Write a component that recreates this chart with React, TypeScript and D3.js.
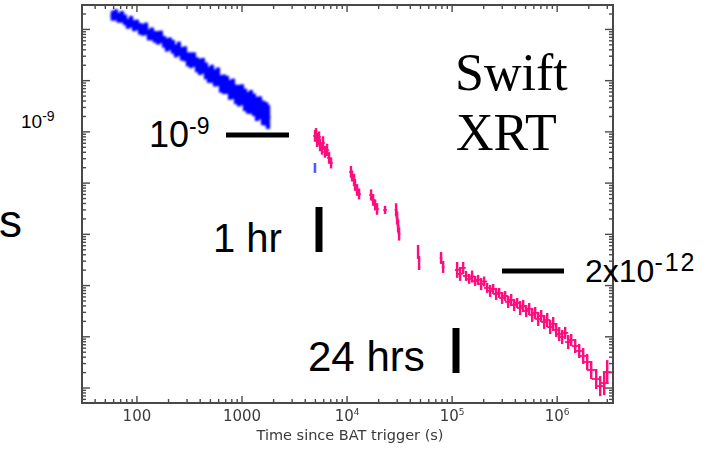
import React, { useRef, useEffect } from "react";
import * as d3 from "d3";

// Swift XRT light curve, early (blue) then late (pink) segments
const blueTime = [
  59, 63, 67, 72, 77, 82, 88, 94, 100, 107, 114, 122, 130, 139, 148, 159, 169,
  181, 193, 206, 220, 235, 251, 268, 287, 306, 327, 349, 373, 398, 425, 454,
  485, 518, 553, 591, 631, 674, 720, 769, 821, 877, 936, 1000, 1068, 1141,
  1218, 1301, 1389, 1484, 1585, 1693, 1770,
];
const blueFlux = [
  1.85e-7, 1.93e-7, 1.69e-7, 1.76e-7, 1.54e-7, 1.29e-7, 1.41e-7, 1.18e-7,
  1.23e-7, 1.03e-7, 9.82e-8, 1.03e-7, 7.84e-8, 8.2e-8, 7.17e-8, 6.85e-8,
  7.17e-8, 5.73e-8, 5.0e-8, 5.23e-8, 4.57e-8, 3.82e-8, 4.18e-8, 3.34e-8,
  3.34e-8, 2.6e-8, 2.5e-8, 2.58e-8, 2.04e-8, 1.86e-8, 1.95e-8, 1.55e-8,
  1.3e-8, 1.36e-8, 1.13e-8, 1.19e-8, 8.66e-9, 8.5e-9, 8.28e-9, 6.61e-9,
  6.92e-9, 5.4e-9, 5.1e-9, 5.3e-9, 4.22e-9, 3.69e-9, 3.85e-9, 3.37e-9,
  2.81e-9, 2.94e-9, 2.35e-9, 2.25e-9, 1.96e-9,
];
const blueErr = [
  0.25, 0.28, 0.25, 0.3, 0.27, 0.25, 0.3, 0.28, 0.26, 0.3, 0.3, 0.32, 0.28,
  0.33, 0.3, 0.35, 0.32, 0.3, 0.35, 0.33, 0.36, 0.34, 0.38, 0.35, 0.4, 0.37,
  0.42, 0.38, 0.4, 0.44, 0.42, 0.46, 0.44, 0.5, 0.47, 0.52, 0.48, 0.55, 0.5,
  0.56, 0.58, 0.55, 0.62, 0.6, 0.66, 0.63, 0.7, 0.66, 0.72, 0.68, 0.74, 0.7,
  0.72,
];
const blueLateTime = [4950];
const blueLateFlux = [1.98e-10];

const pinkTime = [
  5070, 5180, 5300, 5410, 5535, 5780, 5905, 6170, 6450, 6740, 7040, 4955,
  10900, 11160, 11660, 11910, 12450, 13010,
  16930, 17700, 18500, 19300,
  23000,
  29300, 29950, 30600, 31270,
  47400, 48500,
  78500, 82100,
  111600, 119200, 127300, 135900, 145200, 155000, 165600, 176800, 188900,
  201700, 215400, 230100, 245700, 262400, 280300, 299400, 319700, 341500,
  364700, 389500, 416000, 444300, 474600, 506800, 541300, 578100, 617400,
  659400, 704300, 752200, 803400, 858000, 916400, 978700, 1045000, 1116000,
  1192000, 1273000, 1359000, 1484000, 1620000, 1768000, 1931000, 2108000,
  2352000, 2568000, 2803000, 2994000,
];
const pinkFlux = [
  9.14e-10, 6.67e-10, 7.3e-10, 7.98e-10, 5.57e-10, 4.66e-10, 6.1e-10, 4.07e-10,
  4.45e-10, 3.1e-10, 2.48e-10, 8.35e-10,
  1.66e-10, 1.38e-10, 1.15e-10, 9.22e-11, 7.36e-11, 6.15e-11,
  5.89e-11, 4.7e-11, 3.75e-11, 3.13e-11,
  3.0e-11,
  3.0e-11, 2.09e-11, 1.46e-11, 1.02e-11,
  4.53e-12, 2.76e-12,
  3.46e-12, 2.31e-12,
  2.02e-12, 1.69e-12, 2.21e-12, 1.54e-12, 1.35e-12, 1.5e-12, 1.23e-12,
  1.29e-12, 1.07e-12, 1.2e-12, 8.98e-13, 7.85e-13, 8.59e-13, 6.86e-13,
  7.17e-13, 5.73e-13, 6.27e-13, 4.79e-13, 5.24e-13, 4.18e-13, 4.57e-13,
  3.65e-13, 4.0e-13, 3.19e-13, 3.49e-13, 2.67e-13, 2.92e-13, 2.23e-13,
  2.55e-13, 1.95e-13, 2.13e-13, 1.55e-13, 1.78e-13, 1.36e-13, 1.13e-13,
  9.91e-14, 1.19e-13, 7.91e-14, 8.66e-14, 6.61e-14, 5.28e-14, 4.22e-14,
  3.22e-14, 2.25e-14, 1.5e-14, 1.09e-14, 1.25e-14, 2.05e-14,
];
const pinkErr = [
  0.3, 0.32, 0.3, 0.28, 0.33, 0.3, 0.35, 0.3, 0.32, 0.3, 0.28, 0.3,
  0.3, 0.28, 0.32, 0.3, 0.3, 0.28,
  0.28, 0.3, 0.28, 0.3,
  0.2,
  0.35, 0.35, 0.35, 0.35,
  0.37, 0.37,
  0.31, 0.31,
  0.43, 0.37, 0.31, 0.25, 0.25, 0.31, 0.25, 0.25, 0.31, 0.25, 0.25, 0.31,
  0.25, 0.31, 0.25, 0.31, 0.25, 0.31, 0.31, 0.31, 0.25, 0.37, 0.31, 0.31,
  0.31, 0.37, 0.31, 0.37, 0.31, 0.37, 0.37, 0.37, 0.37, 0.37, 0.37, 0.37,
  0.31, 0.37, 0.31, 0.37, 0.37, 0.43, 0.43, 0.5, 0.57, 0.57, 0.71, 0.71,
];
const pinkTErr = [
  0.04, 0.04, 0.04, 0.04, 0.04, 0.04, 0.04, 0.04, 0.04, 0.04, 0.04, 0.04,
  0.04, 0.04, 0.04, 0.04, 0.04, 0.04,
  0.04, 0.04, 0.04, 0.04,
  0.04,
  0.03, 0.03, 0.03, 0.03,
  0.02, 0.02,
  0.03, 0.03,
  0.05, 0.06, 0.06, 0.07, 0.07, 0.07, 0.07, 0.07, 0.07, 0.07, 0.07, 0.07,
  0.07, 0.07, 0.07, 0.07, 0.07, 0.07, 0.07, 0.07, 0.07, 0.07, 0.07, 0.07,
  0.07, 0.07, 0.07, 0.07, 0.07, 0.07, 0.07, 0.07, 0.07, 0.07, 0.07, 0.07,
  0.07, 0.07, 0.07, 0.08, 0.08, 0.08, 0.09, 0.1, 0.1, 0.1, 0.1, 0.1,
];

const xMajorTicks = [100, 1000, 1e4, 1e5, 1e6];
const xTickLabels = [
  ["100", ""],
  ["1000", ""],
  ["10", "4"],
  ["10", "5"],
  ["10", "6"],
];

const W = 710,
  H = 449;
const frame = { left: 82, right: 613, top: 5, bottom: 403 };
const sans = "'Liberation Sans', Arial, sans-serif";

export default function App() {
  const ref = useRef<SVGSVGElement>(null);

  useEffect(() => {
    const svg = d3.select(ref.current);
    svg.selectAll("*").remove();

    const x = d3
      .scaleLog()
      .domain([30, 3.4e6])
      .range([frame.left, frame.right]);
    const y = d3
      .scaleLog()
      .domain([5.1e-15, 3.0e-7])
      .range([frame.bottom, frame.top]);

    const defs = svg.append("defs");
    defs
      .append("filter")
      .attr("id", "soft")
      .append("feGaussianBlur")
      .attr("stdDeviation", 0.55);
    defs
      .append("filter")
      .attr("id", "fuzz")
      .append("feGaussianBlur")
      .attr("stdDeviation", 0.8);

    const axes = svg.append("g").attr("filter", "url(#soft)");
    axes
      .append("rect")
      .attr("x", frame.left)
      .attr("y", frame.top)
      .attr("width", frame.right - frame.left)
      .attr("height", frame.bottom - frame.top)
      .attr("fill", "none")
      .attr("stroke", "#4a4a4a")
      .attr("stroke-width", 2);

    // log ticks on all four sides
    const xt: { v: number; major: boolean }[] = [];
    for (let k = 1; k <= 6; k++)
      for (let m = 1; m <= 9; m++) {
        const v = m * Math.pow(10, k);
        if (v > 30 && v < 3.4e6) xt.push({ v, major: m === 1 });
      }
    const yt: { v: number; major: boolean }[] = [];
    for (let k = -15; k <= -7; k++)
      for (let m = 1; m <= 9; m++) {
        const v = m * Math.pow(10, k);
        if (v > 5.1e-15 && v < 3.0e-7) yt.push({ v, major: m === 1 });
      }
    xt.forEach((t) => {
      const len = t.major ? 7 : 4;
      const px = x(t.v);
      axes.append("line").attr("x1", px).attr("x2", px)
        .attr("y1", frame.bottom).attr("y2", frame.bottom - len);
      axes.append("line").attr("x1", px).attr("x2", px)
        .attr("y1", frame.top).attr("y2", frame.top + len);
    });
    yt.forEach((t) => {
      const len = t.major ? 8 : 4;
      const py = y(t.v);
      axes.append("line").attr("y1", py).attr("y2", py)
        .attr("x1", frame.left).attr("x2", frame.left + len);
      axes.append("line").attr("y1", py).attr("y2", py)
        .attr("x1", frame.right).attr("x2", frame.right - len);
    });
    axes.selectAll("line").attr("stroke", "#4a4a4a").attr("stroke-width", 1.4);

    xMajorTicks.forEach((v, i) => {
      const [base, sup] = xTickLabels[i];
      const t = axes
        .append("text")
        .attr("x", x(v))
        .attr("y", 421)
        .attr("text-anchor", "middle")
        .attr("font-family", "'DejaVu Sans', sans-serif")
        .attr("font-size", 15)
        .attr("fill", "#3a3a3a");
      t.append("tspan").text(base);
      if (sup) t.append("tspan").attr("dy", -6).attr("font-size", 9).text(sup);
    });
    axes
      .append("text")
      .attr("x", 350)
      .attr("y", 440)
      .attr("text-anchor", "middle")
      .attr("font-family", "'DejaVu Sans', sans-serif")
      .attr("font-size", 14.5)
      .attr("fill", "#3a3a3a")
      .text("Time since BAT trigger (s)");

    // data points with error bars
    const drawPoints = (
      layer: d3.Selection<SVGGElement, unknown, null, undefined>,
      times: number[],
      fluxes: number[],
      errs: number[],
      terrs: number[] | null,
      color: string,
      width: number,
      capWidth: number,
      defaultTErr: number
    ) => {
      times.forEach((t, i) => {
        const f = fluxes[i];
        const e = errs[i];
        const te = terrs ? terrs[i] : defaultTErr;
        layer.append("line")
          .attr("x1", x(t)).attr("x2", x(t))
          .attr("y1", y(f / (1 + e))).attr("y2", y(f * (1 + e)))
          .attr("stroke", color).attr("stroke-width", width);
        layer.append("line")
          .attr("x1", x(t / (1 + te))).attr("x2", x(t * (1 + te)))
          .attr("y1", y(f)).attr("y2", y(f))
          .attr("stroke", color).attr("stroke-width", capWidth);
      });
    };
    const blueLayer = svg.append("g").attr("filter", "url(#fuzz)");
    drawPoints(blueLayer, blueTime, blueFlux, blueErr, null, "#0000ff", 4.2, 4, 0.05);
    const pinkLayer = svg.append("g").attr("filter", "url(#soft)");
    drawPoints(pinkLayer, blueLateTime, blueLateFlux, [0.25], null, "#4c5cff", 2.6, 2, 0.02);
    drawPoints(pinkLayer, pinkTime, pinkFlux, pinkErr, pinkTErr, "#ff0a7c", 2.4, 1.8, 0.04);

    // annotations
    const ann = svg.append("g").attr("fill", "#000").attr("font-family", sans);
    const supText = (
      px: number, py: number, base: string, sup: string,
      size: number, supSize: number, rise: number, family = sans, spacing = 0
    ) => {
      const t = ann.append("text").attr("x", px).attr("y", py)
        .attr("font-size", size).attr("font-family", family);
      t.append("tspan").text(base);
      if (sup)
        t.append("tspan").attr("dy", -rise).attr("font-size", supSize)
          .attr("letter-spacing", spacing).text(sup);
    };
    supText(21, 128, "10", "-9", 19, 14, 7);
    supText(149, 147, "10", "-9", 36, 23, 13);
    supText(585, 282, "2x10", "-12", 32, 25, 11, sans, 2);
    supText(213, 252, "1 hr", "", 40, 0, 0);
    supText(308, 371, "24 hrs", "", 42, 0, 0);
    supText(-1, 237, "s", "", 46, 0, 0);
    const serif = "'Liberation Serif', 'Times New Roman', serif";
    supText(455, 90, "Swift", "", 52, 0, 0, serif);
    supText(456, 150, "XRT", "", 52, 0, 0, serif);

    ann.append("line").attr("x1", 226).attr("x2", 289).attr("y1", 135).attr("y2", 135)
      .attr("stroke", "#000").attr("stroke-width", 5);
    ann.append("line").attr("x1", 502).attr("x2", 564).attr("y1", 271).attr("y2", 271)
      .attr("stroke", "#000").attr("stroke-width", 5);
    ann.append("line").attr("x1", 319).attr("x2", 319).attr("y1", 207).attr("y2", 252)
      .attr("stroke", "#000").attr("stroke-width", 7);
    ann.append("line").attr("x1", 456).attr("x2", 456).attr("y1", 328).attr("y2", 373)
      .attr("stroke", "#000").attr("stroke-width", 7);
  }, []);

  return (
    <svg
      ref={ref}
      width={W}
      height={H}
      style={{ position: "absolute", left: 0, top: 0, background: "#fff" }}
    />
  );
}
